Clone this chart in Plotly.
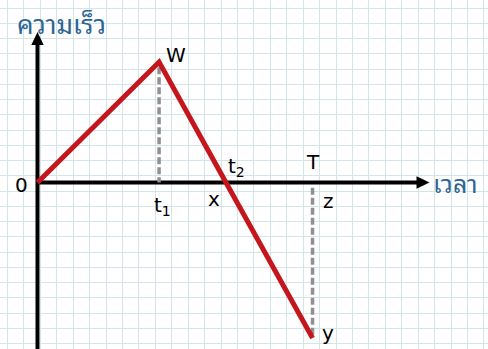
import plotly.graph_objects as go

# ---- data (velocity-time graph) ----
time_points = [0, 7.40, 11.47, 16.74]      # 0, t1, t2, T
velocity = [0, 7.90, 0, -10.20]            # 0, W, 0, y
point_names = ["0", "W", "t2", "y"]
y_label = "ความเร็ว"
x_label = "เวลา"

# ---- layout geometry ----
W_PX, H_PX = 488, 349
PX_X, PX_Y = 16.43, 15.25          # pixels per unit (grid cell)
ORIG_PX = (37.5, 182.5)
x_rng = [-ORIG_PX[0] / PX_X, (W_PX - ORIG_PX[0]) / PX_X]
y_rng = [-(H_PX - ORIG_PX[1]) / PX_Y, ORIG_PX[1] / PX_Y]
x_tip = (429.5 - ORIG_PX[0]) / PX_X
y_tip = (ORIG_PX[1] - 32) / PX_Y
head_len, head_half = 13, 6.2

GRID = "#d4e5ea"
RED = "#c4161c"
BLUE = "#2c6596"
FONT = "DejaVu Sans, Verdana, sans-serif"
TFONT = "Noto Sans Thai Looped, Tahoma, Loma, Garuda, Noto Sans Thai, Noto Sans, sans-serif"

fig = go.Figure()

# axes lines
fig.add_trace(go.Scatter(x=[0, 0], y=[y_rng[0] - 1, y_tip - head_len / PX_Y + 0.05],
                         mode="lines", line=dict(color="black", width=4),
                         hoverinfo="skip", showlegend=False))
fig.add_trace(go.Scatter(x=[0, x_tip - head_len / PX_X + 0.05], y=[0, 0],
                         mode="lines", line=dict(color="black", width=4),
                         hoverinfo="skip", showlegend=False))

# dashed guides
t1, T = time_points[1], time_points[3]
fig.add_trace(go.Scatter(x=[t1, t1], y=[velocity[1] - 0.35, 0], mode="lines",
                         line=dict(color="#909090", width=3.5, dash="7px,3px"),
                         hoverinfo="skip", showlegend=False))
fig.add_trace(go.Scatter(x=[T, T], y=[-0.35, velocity[3]], mode="lines",
                         line=dict(color="#909090", width=3.5, dash="7px,3px"),
                         hoverinfo="skip", showlegend=False))

# main velocity line
fig.add_trace(go.Scatter(x=time_points, y=velocity, mode="lines",
                         line=dict(color=RED, width=5), hoverinfo="skip",
                         showlegend=False))

# arrowheads
hx, hy = head_len / PX_X, head_half / PX_Y
fig.add_shape(type="path", xref="x", yref="y",
              path=f"M {x_tip} 0 L {x_tip - hx} {hy} L {x_tip - hx} {-hy} Z",
              fillcolor="black", line=dict(width=0))
hx2, hy2 = head_half / PX_X, head_len / PX_Y
fig.add_shape(type="path", xref="x", yref="y",
              path=f"M 0 {y_tip} L {-hx2} {y_tip - hy2} L {hx2} {y_tip - hy2} Z",
              fillcolor="black", line=dict(width=0))

def lab(x, y, text, dx, dy, size=20, color="black", font=FONT, xanchor="center"):
    fig.add_annotation(x=x, y=y, xref="x", yref="y", text=text, showarrow=False,
                       xshift=dx, yshift=dy, xanchor=xanchor, yanchor="middle",
                       font=dict(family=font, size=size, color=color))

lab(0, y_tip, y_label, 23.5, 10, size=26, color=BLUE, font=TFONT)
lab(x_tip, 0, x_label, 1, 1, size=25, color=BLUE, font=TFONT, xanchor="left")
lab(0, 0, "0", -16, -2)
lab(t1, velocity[1], "W", 17, 7)
lab(t1, 0, "t<sub>1</sub>", 3, -23)
lab(time_points[2], 0, "x", -12, -16)
lab(time_points[2], 0, "t<sub>2</sub>", 11, 16)
lab(T, 0, "T", 0, 21)
lab(T, 0, "z", 15.5, -18.5)
lab(T, velocity[3], "y", 15.5, 5)

fig.update_layout(
    width=W_PX, height=H_PX, margin=dict(l=0, r=0, t=0, b=0),
    paper_bgcolor="white", plot_bgcolor="white",
    xaxis=dict(range=x_rng, showgrid=True, gridcolor=GRID, gridwidth=1.3,
               dtick=1, tick0=(7.5 - ORIG_PX[0]) / PX_X, zeroline=False,
               showticklabels=False, ticks="", showline=False, fixedrange=True),
    yaxis=dict(range=y_rng, showgrid=True, gridcolor=GRID, gridwidth=1.3,
               dtick=1, tick0=(ORIG_PX[1] - 8) / PX_Y, zeroline=False,
               showticklabels=False, ticks="", showline=False, fixedrange=True),
)

fig.write_html("out.html", config={"displayModeBar": False},
               post_script="document.body.style.margin='0';")
